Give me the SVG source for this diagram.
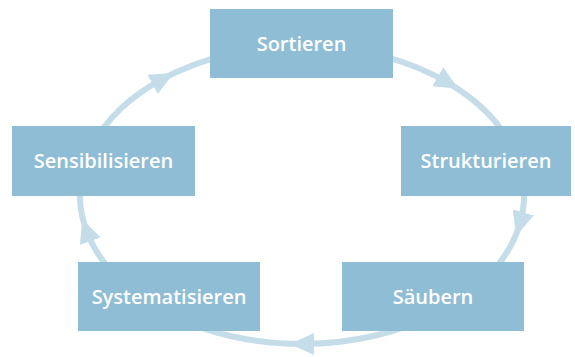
<svg xmlns="http://www.w3.org/2000/svg" width="575" height="357" viewBox="0 0 575 357">
<style>
.box{fill:#8ebdd5}
.lbl{fill:#ffffff;font-family:"Open Sans","Noto Sans",sans-serif;font-size:20px;font-weight:600;text-anchor:middle}
.arc{fill:none;stroke:#c5dde9;stroke-width:6}
</style>
<defs>
<marker id="ah" markerUnits="userSpaceOnUse" markerWidth="26" markerHeight="24" viewBox="0 0 26 24" refX="12" refY="12" orient="auto">
<path d="M0,1 L24,12 L0,23 z" fill="#c5dde9"/>
</marker>
</defs>
<rect width="575" height="357" fill="#ffffff"/>
<g id="connectors">
<path class="arc" marker-end="url(#ah)" d="M86.2,230 A222,149 0 0 1 163.2,78.7"/>
<path class="arc" marker-end="url(#ah)" d="M163.2,78.7 A222,149 0 0 1 448.1,82.8"/>
<path class="arc" marker-end="url(#ah)" d="M448.1,82.8 A222,149 0 0 1 519.8,223.9"/>
<path class="arc" marker-end="url(#ah)" d="M519.8,223.9 A222,149 0 0 1 302,344"/>
<path class="arc" marker-end="url(#ah)" d="M302,344 A222,149 0 0 1 86.2,230"/>
</g>
<g id="sortieren"><rect class="box" x="210" y="9" width="183" height="69"/><text class="lbl" x="301.5" y="50.5">Sortieren</text></g>
<g id="strukturieren"><rect class="box" x="401" y="126" width="170" height="70"/><text class="lbl" x="486" y="167.5">Strukturieren</text></g>
<g id="saeubern"><rect class="box" x="342" y="262" width="182" height="69"/><text class="lbl" x="433" y="303.5">Säubern</text></g>
<g id="systematisieren"><rect class="box" x="78" y="262" width="182" height="69"/><text class="lbl" x="169" y="303.5">Systematisieren</text></g>
<g id="sensibilisieren"><rect class="box" x="12" y="126" width="183" height="70"/><text class="lbl" x="103.5" y="167.5">Sensibilisieren</text></g>
</svg>
